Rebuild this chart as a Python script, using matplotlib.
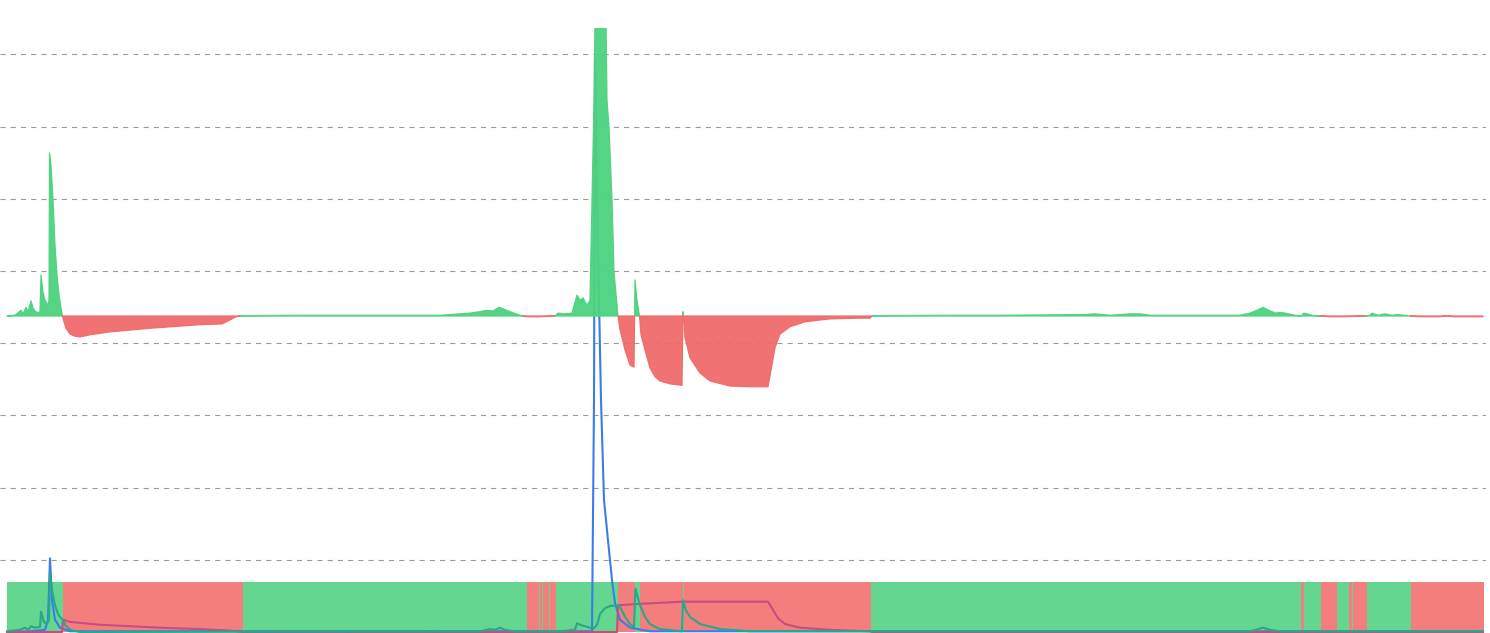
import numpy as np
import matplotlib
matplotlib.use("Agg")
import matplotlib.pyplot as plt

# ---------------- data ----------------
# oscillator (green above zero, red below)
osc_t = [0, 8, 14, 16, 19, 21, 24, 26, 28, 31, 33, 34, 36, 38, 41, 42, 42.5, 44, 46, 48, 50, 52, 54,
         55.5, 57, 59, 63, 68, 73, 83, 103, 143, 193, 215, 221, 229, 233, 236, 293, 393, 433, 453,
         463, 473, 480, 486, 492, 496, 503, 513, 520, 533, 548, 551, 558, 565, 570, 573, 576, 580,
         583, 587, 588, 599, 600, 602, 605, 607, 611, 613, 618, 623, 627, 628, 630, 632.5, 634,
         638, 643, 648, 653, 663, 675, 676, 678, 683, 693, 703, 723, 743, 761, 764, 768, 773, 783,
         798, 823, 853, 863, 865, 868, 943, 993, 1078, 1088, 1103, 1123, 1133, 1143, 1233, 1243,
         1250, 1256, 1263, 1269, 1273, 1278, 1288, 1294, 1297, 1305, 1313, 1323, 1338, 1358, 1363,
         1365, 1371, 1378, 1385, 1391, 1403, 1413, 1433, 1438, 1448, 1476]
osc_v = [0, 0.01, 0.08, 0.03, 0.12, 0.06, 0.21, 0.11, 0.07, 0.04, 0.06, 0.57, 0.33, 0.22, 0.15, 0.22,
         2.26, 2.09, 1.61, 0.98, 0.57, 0.29, 0.11, 0, -0.08, -0.17, -0.25, -0.28, -0.29, -0.26,
         -0.22, -0.17, -0.12, -0.11, -0.07, -0.01, 0, 0.005, 0.01, 0.01, 0.01, 0.03, 0.04, 0.06,
         0.08, 0.07, 0.12, 0.10, 0.06, 0.01, -0.01, -0.01, 0, 0.04, 0.03, 0.04, 0.29, 0.22, 0.25,
         0.15, 0.22, 2.99, 4.1, 4.1, 2.99, 2.62, 1.61, 0.61, 0, -0.19, -0.47, -0.68, -0.71, 0.5,
         0.22, 0, -0.26, -0.47, -0.72, -0.84, -0.90, -0.94, -0.96, 0.06, -0.30, -0.58, -0.79,
         -0.90, -0.97, -0.98, -0.98, -0.75, -0.44, -0.25, -0.15, -0.08, -0.04, -0.03, -0.03, 0,
         0.005, 0.01, 0.01, 0.02, 0.03, 0.01, 0.03, 0.03, 0.01, 0.01, 0.04, 0.08, 0.12, 0.07,
         0.04, 0.05, 0.04, 0.01, 0, 0.04, 0.01, 0, -0.01, -0.01, 0, 0.01, 0.04, 0.01, 0.03, 0.01,
         0.02, 0, -0.01, -0.01, 0, -0.01, -0.01]

# blue line
blue_t = [0, 23, 38, 41, 43, 45, 48, 53, 63, 585, 587, 588, 590, 592, 594, 597, 601, 605, 608,
          613, 623, 643, 1476]
blue_v = [0, 0.01, 0.03, 0.17, 1.02, 0.44, 0.17, 0.06, 0.01, 0.01, 3.21, 7.96, 5.98, 4.60, 3.21,
          1.83, 1.27, 0.72, 0.40, 0.17, 0.06, 0.01, 0.01]

# teal line
teal_t = [0, 13, 18, 21, 24, 28, 33, 34, 37, 40, 42, 43, 45, 48, 51, 54, 56, 58, 63, 73, 473, 483,
          488, 493, 498, 508, 553, 568, 570, 573, 578, 583, 586, 590, 593, 598, 603, 611, 613, 618,
          623, 627, 628.5, 631, 633, 638, 643, 653, 675, 676, 679, 683, 693, 713, 743, 1243, 1251,
          1256, 1263, 1273, 1476]
teal_v = [0.01, 0.03, 0.06, 0.03, 0.08, 0.06, 0.07, 0.28, 0.14, 0.11, 0.17, 0.82, 0.58, 0.37, 0.25,
          0.19, 0.17, 0.10, 0.03, 0, 0.01, 0.04, 0.03, 0.06, 0.03, 0.01, 0.01, 0.03, 0.12, 0.10,
          0.08, 0.06, 0.04, 0.10, 0.25, 0.33, 0.36, 0.37, 0.35, 0.21, 0.11, 0.07, 0.60, 0.47, 0.37,
          0.21, 0.11, 0.04, 0.01, 0.44, 0.30, 0.21, 0.11, 0.04, 0.01, 0.01, 0.04, 0.06, 0.03, 0.01,
          0.01]

# purple line
purple_t = [0, 55, 56, 63, 93, 123, 153, 193, 223, 236, 610, 611, 633, 676, 761, 765, 771, 778,
            793, 823, 863, 865, 1476]
purple_v = [0, 0, 0.17, 0.14, 0.10, 0.08, 0.06, 0.04, 0.02, 0, 0, 0.37, 0.39, 0.42, 0.42, 0.33,
            0.19, 0.11, 0.06, 0.03, 0.01, 0, 0]

# regime strip: edges of alternating bands, starting with "up"
band_edges = [0, 56, 236, 520, 532, 533, 535, 536, 542, 543, 549, 611, 628, 633, 676, 677, 864,
              1294, 1297, 1314, 1330, 1342, 1345, 1346, 1360, 1404, 1477]
band_state = ["up" if i % 2 == 0 else "down" for i in range(len(band_edges) - 1)]

# ---------------- styling ----------------
GREEN_FILL = "#4dd27f"
RED_FILL = "#f06a6a"
GREEN_STRIP = "#64d690"
RED_STRIP = "#f47e7e"
BLUE = "#3a7de9"
TEAL = "#27a88a"
PURPLE = "#c24f80"

W, H = 1490, 633
fig = plt.figure(figsize=(W / 100, H / 100), dpi=100)

PX_UNIT = 72.2          # pixels per grid unit
x_left_px, x_right_px = 0, 1486
data_x0_px = 7          # pixel where t = 0
xlim = (-(data_x0_px - x_left_px), x_right_px - data_x0_px)

top_px = 28
zero_fill_px = 316
zero_line_px = 632


def pos(y_top_px, y_bot_px):
    return [x_left_px / W, (H - y_bot_px) / H, (x_right_px - x_left_px) / W,
            (y_bot_px - y_top_px) / H]


def clean(ax):
    for s in ax.spines.values():
        s.set_visible(False)
    ax.set_xticks([])
    ax.tick_params(left=False, labelleft=False, bottom=False, labelbottom=False)
    ax.patch.set_alpha(0)


# strip axis
ax_strip = fig.add_axes(pos(582, 632))
ax_strip.set_xlim(xlim)
ax_strip.set_ylim(0, 1)
clean(ax_strip)
ax_strip.set_yticks([])
lefts = np.array(band_edges[:-1], dtype=float)
widths = np.diff(band_edges)
cols = [GREEN_STRIP if s == "up" else RED_STRIP for s in band_state]
ax_strip.bar(lefts, np.ones_like(lefts), width=widths, align="edge", color=cols,
             linewidth=0)

# lines axis (with grid)
ax_lines = fig.add_axes(pos(top_px, H))
ax_lines.set_xlim(xlim)
ax_lines.set_ylim(-(H - zero_line_px) / PX_UNIT, (zero_line_px - top_px) / PX_UNIT)
clean(ax_lines)
ax_lines.set_yticks(np.arange(1, 9))
ax_lines.grid(axis="y", color="#9a9a9a", linewidth=0.8, linestyle=(0, (4.6, 4.6)))
ax_lines.set_axisbelow(True)
ax_lines.plot(blue_t, blue_v, color=BLUE, lw=1.5, zorder=3)
ax_lines.plot(purple_t, purple_v, color=PURPLE, lw=1.5, zorder=4)
ax_lines.plot(teal_t, teal_v, color=TEAL, lw=1.5, zorder=5)

# oscillator axis on top
ax_fill = fig.add_axes(pos(top_px, H))
ax_fill.set_xlim(xlim)
ax_fill.set_ylim(-(H - zero_fill_px) / PX_UNIT, (zero_fill_px - top_px) / PX_UNIT)
clean(ax_fill)
ax_fill.set_yticks([])
t = np.array(osc_t, dtype=float)
v = np.array(osc_v, dtype=float)
ax_fill.fill_between(t, v, 0, where=v >= 0, interpolate=True, color=GREEN_FILL,
                     alpha=0.95, linewidth=0.9, edgecolor=GREEN_FILL)
ax_fill.fill_between(t, v, 0, where=v <= 0, interpolate=True, color=RED_FILL,
                     alpha=0.95, linewidth=0.9, edgecolor=RED_FILL)

fig.savefig("out.png", dpi=100)
